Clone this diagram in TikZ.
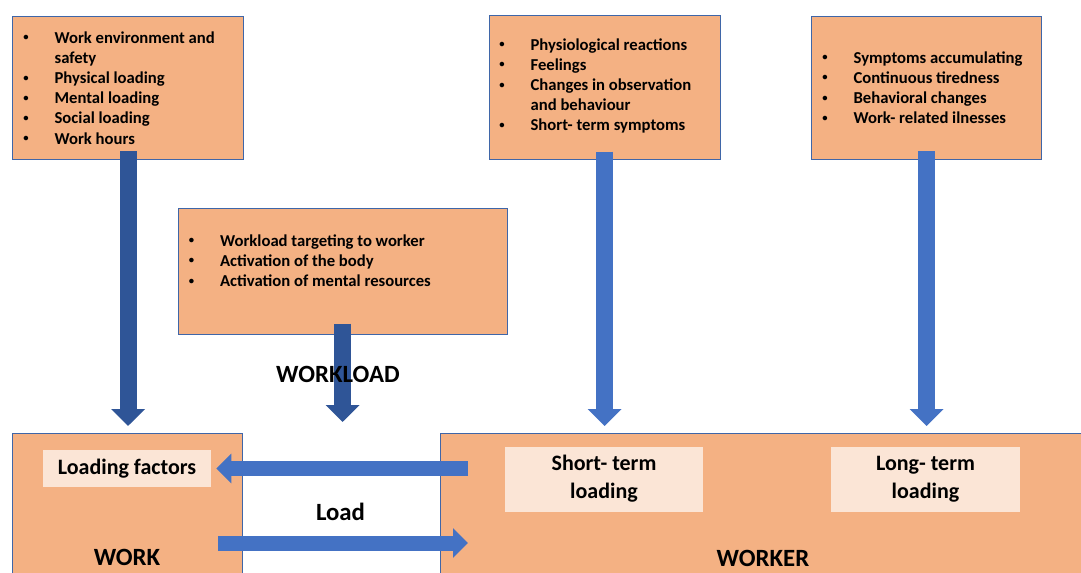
\documentclass[tikz,border=0pt]{standalone}
\usepackage{fontspec}
\setmainfont{Carlito}
\usetikzlibrary{arrows.meta}

\definecolor{boxfill}{HTML}{F4B183}
\definecolor{innerfill}{HTML}{FBE5D6}
\definecolor{edgeblue}{HTML}{3F66A8}
\definecolor{darkflow}{HTML}{2F5597}
\definecolor{lightflow}{HTML}{4472C4}

\newcommand{\dotmark}{\hspace{1.5pt}\raisebox{1.7pt}{\fontsize{8}{8}\selectfont\textbullet}}

\begin{document}
\begin{tikzpicture}[x=0.75pt, y=-0.75pt,
	every node/.style={font=\bfseries},
	infobox/.style={draw=edgeblue, line width=0.8pt, fill=boxfill, anchor=north west, inner sep=0pt},
	termbox/.style={fill=innerfill, inner sep=0pt, align=center, font=\fontsize{16.5}{21}\selectfont\bfseries},
	bullets/.style={anchor=base west, inner sep=0pt, font=\fontsize{12.5}{15.15}\selectfont\bfseries},
	bigtext/.style={anchor=base, inner sep=0pt, font=\fontsize{18.6}{22}\selectfont\bfseries},
	downflow/.style={line width=12.75pt, -{Triangle[width=24.75pt, length=12.75pt]}},
	sideflow/.style={line width=11.25pt, lightflow, -{Triangle[width=21.75pt, length=11.25pt]}}]
	\useasboundingbox (0,0) rectangle (1081,572);
	\clip (0,0) rectangle (1081,572);

	\node[infobox, minimum width=173.25pt, minimum height=107.25pt] (factors) at (12,16) {};
	\node[infobox, minimum width=246.75pt, minimum height=94.5pt] (targets) at (177.5,207.5) {};
	\node[infobox, minimum width=173.25pt, minimum height=108pt] (reactions) at (488.5,14.5) {};
	\node[infobox, minimum width=172.5pt, minimum height=107.25pt] (accum) at (811,16) {};
	\node[infobox, minimum width=172.5pt, minimum height=112.5pt] (work) at (12,433) {};
	\node[infobox, minimum width=487.5pt, minimum height=112.5pt] (worker) at (440,433) {};

	\node[bullets] (factorlist) at (21,43) {\begin{tabular}[t]{@{}p{25pt}@{}l@{}}
		\dotmark & Work environment and\\
		& safety\\
		\dotmark & Physical loading\\
		\dotmark & Mental loading\\
		\dotmark & Social loading\\
		\dotmark & Work hours
	\end{tabular}};
	\node[bullets] (targetlist) at (186.5,246) {\begin{tabular}[t]{@{}p{25pt}@{}l@{}}
		\dotmark & Workload targeting to worker\\
		\dotmark & Activation of the body\\
		\dotmark & Activation of mental resources
	\end{tabular}};
	\node[bullets] (reactionlist) at (497,50) {\begin{tabular}[t]{@{}p{25pt}@{}l@{}}
		\dotmark & Physiological reactions\\
		\dotmark & Feelings\\
		\dotmark & Changes in observation\\
		& and behaviour\\
		\dotmark & Short- term symptoms
	\end{tabular}};
	\node[bullets] (accumlist) at (820,63) {\begin{tabular}[t]{@{}p{25pt}@{}l@{}}
		\dotmark & Symptoms accumulating\\
		\dotmark & Continuous tiredness\\
		\dotmark & Behavioral changes\\
		\dotmark & Work- related ilnesses
	\end{tabular}};

	\node[termbox, minimum width=126pt, minimum height=27.75pt] (loadfactors) at (127,468.5) {Loading factors};
	\node[termbox, minimum width=148.5pt, minimum height=48.75pt] (shortterm) at (604,479) {Short- term\\loading};
	\node[termbox, minimum width=141.75pt, minimum height=48.75pt] (longterm) at (925.5,479) {Long- term\\loading};

	\draw[downflow, darkflow, shorten <=-6.75pt, shorten >=5.25pt] (factors.south) -- (factors.south |- work.north);
	\draw[downflow, darkflow, shorten <=-8.25pt, shorten >=8.25pt] (targets.south) -- (targets.south |- work.north);
	\draw[downflow, lightflow, shorten <=-6pt, shorten >=5.25pt] (reactions.south) -- (reactions.south |- worker.north);
	\draw[downflow, lightflow, shorten <=-6.75pt, shorten >=5.25pt] (accum.south) -- (accum.south |- worker.north);

	\coordinate (loadlevel) at (240,543);
	\draw[sideflow, shorten <=-21pt, shorten >=3.75pt] (worker.west |- loadfactors.east) -- (loadfactors.east);
	\draw[sideflow, shorten <=-18.75pt, shorten >=-21pt] (work.east |- loadlevel) -- (worker.west |- loadlevel);

	\node[bigtext] (workload) at (338,382) {WORKLOAD};
	\node[bigtext] (loadlabel) at (340.5,520) {Load};
	\node[bigtext] (worklabel) at (127,565) {WORK};
	\node[bigtext] (workerlabel) at (763,566) {WORKER};
\end{tikzpicture}
\end{document}
